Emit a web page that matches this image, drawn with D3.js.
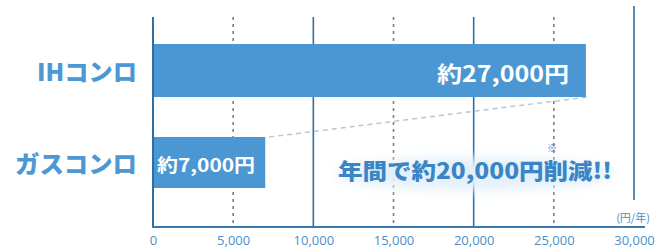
<!DOCTYPE html>
<html><head><meta charset="utf-8">
<script src="https://cdn.jsdelivr.net/npm/d3@7"></script>
<style>
html,body{margin:0;padding:0;background:#fff;}
svg{display:block;font-family:"Noto Sans CJK JP","Noto Sans",sans-serif;}
</style></head>
<body><svg id="c" width="660" height="251"></svg>
<script>
const categories = ["IHコンロ", "ガスコンロ"];
const values = [27000, 7000];
const valueLabels = ["約27,000円", "約7,000円"];
const tickValues = [0, 5000, 10000, 15000, 20000, 25000, 30000];
const unitLabel = "(円/年)";
const annotation = "年間で約20,000円削減!!";

const svg = d3.select("#c");
const x = d3.scaleLinear().domain([0, 30000]).range([153, 634]);
const barBand = {"IHコンロ":[44,97],"ガスコンロ":[137,188]};
const yTop = c => barBand[c][0], yBot = c => barBand[c][1];

const blue = "#4b97d3";
const dark = "#2f6e9f";

// gridlines
tickValues.forEach(t => {
  if (t === 0) return;
  const solid = (t % 10000 === 0);
  svg.append("line")
    .attr("x1", x(t)).attr("x2", x(t))
    .attr("y1", t === 30000 ? 6 : 17)
    .attr("y2", t === 30000 ? 200 : 226)
    .attr("stroke", solid ? dark : "#7a8088")
    .attr("stroke-width", 1.6)
    .attr("stroke-dasharray", solid ? null : "3,4");
});

// connector dashed line
svg.append("line")
  .attr("x1", x(values[1]) + 4).attr("y1", yTop("ガスコンロ"))
  .attr("x2", x(values[0]) + 2).attr("y2", yBot("IHコンロ"))
  .attr("stroke", "#b5c8d8").attr("stroke-width", 1.5).attr("stroke-dasharray", "5,4");

// bars
categories.forEach((c, i) => {
  svg.append("rect")
    .attr("x", x(0)).attr("y", yTop(c))
    .attr("width", x(values[i]) - x(0))
    .attr("height", yBot(c) - yTop(c))
    .attr("fill", blue);
});

// axis lines
svg.append("line").attr("x1", x(0)).attr("x2", x(0)).attr("y1", 17).attr("y2", 227)
  .attr("stroke", dark).attr("stroke-width", 2);
svg.append("line").attr("x1", x(0) - 1).attr("x2", 645).attr("y1", 227).attr("y2", 227)
  .attr("stroke", "#3d78aa").attr("stroke-width", 2.2);

// tick labels
const axis = d3.axisBottom(x).tickValues(tickValues).tickFormat(d3.format(",")).tickSize(0).tickPadding(0);
const ag = svg.append("g").attr("transform", "translate(0,236)").call(axis);
ag.select(".domain").remove();
ag.selectAll("text").attr("fill", "#4a8fc6").attr("font-size", 13)
  .attr("font-family", "'Open Sans','Noto Sans',sans-serif").attr("dy", "0.71em");

// unit label
svg.append("text").attr("x", 633).attr("y", 217).attr("text-anchor", "middle")
  .attr("dominant-baseline", "central")
  .attr("font-size", 11).attr("fill", "#4a8fc6").text(unitLabel);

// category labels
const catW = {"IHコンロ": 100, "ガスコンロ": 122};
categories.forEach(c => {
  svg.append("text").attr("x", 137 - catW[c]).attr("y", (yTop(c) + yBot(c)) / 2)
    .attr("dominant-baseline", "central")
    .attr("font-size", 24).attr("font-weight", 900).attr("fill", "#4d98d2")
    .attr("textLength", catW[c]).attr("lengthAdjust", "spacingAndGlyphs")
    .text(c);
});

// value labels
svg.append("text").attr("x", 437).attr("y", 72)
  .attr("dominant-baseline", "central").attr("font-size", 22).attr("font-weight", 700)
  .attr("fill", "#fff").attr("textLength", 132).attr("lengthAdjust", "spacingAndGlyphs")
  .text(valueLabels[0]);
svg.append("text").attr("x", 157).attr("y", 164)
  .attr("dominant-baseline", "central").attr("font-size", 18).attr("font-weight", 700)
  .attr("fill", "#fff").attr("textLength", 98).attr("lengthAdjust", "spacingAndGlyphs")
  .text(valueLabels[1]);

// annotation glow
const defs = svg.append("defs");
const f = defs.append("filter").attr("id", "blur").attr("x", "-20%").attr("y", "-50%").attr("width", "140%").attr("height", "200%");
f.append("feGaussianBlur").attr("stdDeviation", 6);
svg.append("ellipse").attr("cx", 475).attr("cy", 174).attr("rx", 140).attr("ry", 16)
  .attr("fill", "#e3f0f9").attr("filter", "url(#blur)");
svg.append("text").attr("x", 338).attr("y", 169).attr("dominant-baseline", "central")
  .attr("font-size", 22).attr("font-weight", 900).attr("fill", "#3a85c6")
  .attr("textLength", 274).attr("lengthAdjust", "spacingAndGlyphs")
  .text(annotation);
svg.append("text").attr("x", 552).attr("y", 147).attr("text-anchor", "middle")
  .attr("dominant-baseline", "central").attr("font-size", 10).attr("fill", "#3a85c6").text("※");
</script></body></html>
